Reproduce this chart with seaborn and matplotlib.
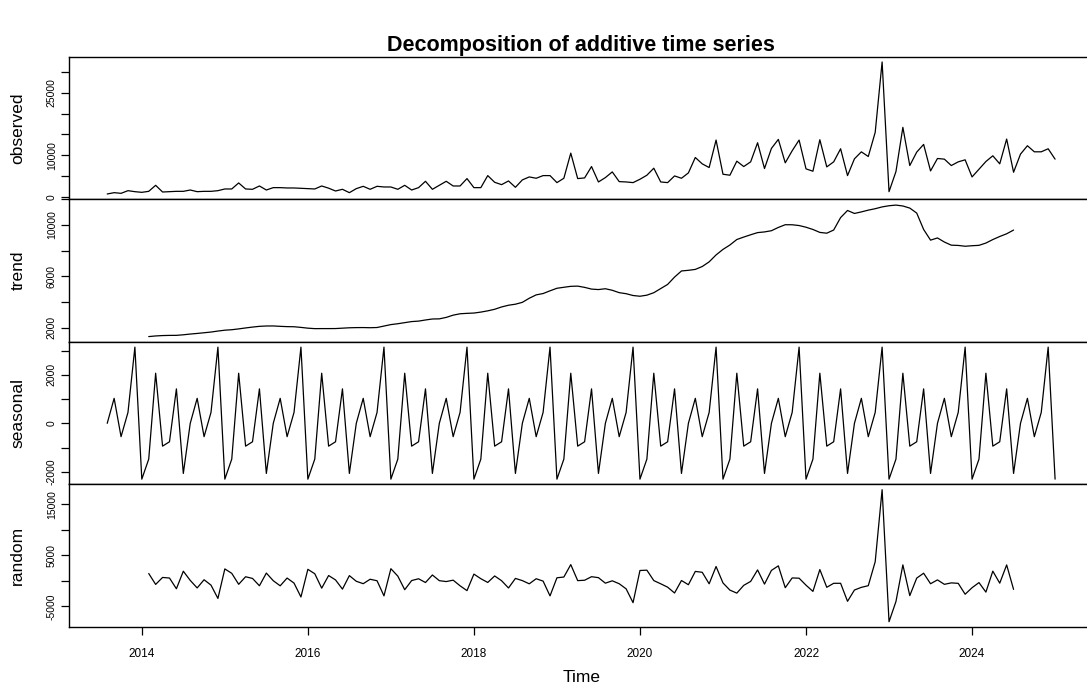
import numpy as np
import pandas as pd
import matplotlib
matplotlib.use("Agg")
import matplotlib.pyplot as plt
import seaborn as sns

# ---- data (monthly, starting Aug 2013) ----
start_year = 2013
start_month = 8
frequency = 12

observed = [
    650, 970, 810, 1450, 1210, 1050, 1290, 2740, 1130, 1210,
    1290, 1290, 1610, 1210, 1290, 1290, 1450, 1860, 1860, 3310,
    1860, 1780, 2580, 1610, 2180, 2180, 2100, 2100, 2020, 1940,
    1860, 2580, 2050, 1370,
    1780, 970, 1940, 2500, 1780, 2500, 2340, 2340, 1780, 2740,
    1610, 2180, 3710, 1780, 2740, 3710, 2580, 2580, 4360, 2180,
    2180, 5080, 3470, 2900, 3790, 2260, 4040, 4760, 4440, 5080,
    5080, 3390, 4440, 10490, 4360, 4520, 7260, 3550,
    4600, 5970, 3630, 3550, 3390, 4200, 5170, 6860, 3550, 3390,
    5000, 4440, 5730, 9440, 7910, 7020, 13640, 5410, 5170, 8550,
    7260, 8390, 12990, 6780, 11620, 13800, 8150, 11060, 13640, 6700,
    6130, 13720, 7180, 8390, 11540, 5080, 9120, 10800,
    9680, 15490, 32440, 1210, 6050, 16700, 7500, 10730, 12590, 6210,
    9200, 9040, 7500, 8390, 8880, 4760, 6620, 8470, 9850, 7910,
    13880, 5890, 10250, 12270, 10810, 10810, 11540, 9040,
]

# seasonal figure, Aug .. Jul
seasonal_pattern = [0, 1030, -550, 450, 3140, -2300, -1475, 2065, -940, -760, 1420, -2065]

panel_names = ["observed", "trend", "seasonal", "random"]
x_ticks = [2014, 2016, 2018, 2020, 2022, 2024]
y_ticks = {
    "observed": [0, 5000, 10000, 15000, 20000, 25000, 30000],
    "trend": [2000, 4000, 6000, 8000, 10000, 12000],
    "seasonal": [-2000, -1000, 0, 1000, 2000, 3000],
    "random": [-5000, 0, 5000, 10000, 15000],
}
y_labelled = {
    "observed": [0, 10000, 25000],
    "trend": [2000, 6000, 10000],
    "seasonal": [-2000, 0, 2000],
    "random": [-5000, 5000, 15000],
}

# ---- classical additive decomposition ----
n = len(observed)
time = start_year + (start_month - 1) / 12 + np.arange(n) / frequency
obs = np.array(observed, dtype=float)
w = np.r_[0.5, np.ones(frequency - 1), 0.5] / frequency
trend = np.full(n, np.nan)
trend[frequency // 2: n - frequency // 2] = np.convolve(obs, w, mode="valid")
seasonal = np.array([seasonal_pattern[i % frequency] for i in range(n)], dtype=float)
random = obs - trend - seasonal

df = pd.DataFrame({"Time": time, "observed": obs, "trend": trend,
                   "seasonal": seasonal, "random": random})

# ---- plotting ----
sns.set_style("ticks")
plt.rcParams["font.family"] = ["Liberation Sans", "DejaVu Sans"]
plt.rcParams["text.color"] = "black"

W, H = 1087, 687
fig, axes = plt.subplots(4, 1, figsize=(W / 100, H / 100), dpi=100, sharex=True)
fig.subplots_adjust(left=69.3 / W, right=1093 / W, top=1 - 56.7 / H,
                    bottom=1 - 627 / H, hspace=0)

tr = time[-1] - time[0]
for ax, name in zip(axes, panel_names):
    d = df[["Time", name]].dropna()
    sns.lineplot(data=d, x="Time", y=name, ax=ax, color="black",
                 linewidth=0.9, estimator=None)
    lo, hi = d[name].min(), d[name].max()
    r = hi - lo
    ax.set_ylim(lo - 0.04 * r, hi + 0.04 * r)
    ax.set_xlim(time[0] - 0.04 * tr, time[-1] + 0.04 * tr)
    ticks = y_ticks[name]
    ax.set_yticks(ticks)
    ax.set_yticklabels([str(t) if t in y_labelled[name] else "" for t in ticks],
                       rotation=90, va="center", fontsize=7.5)
    ax.tick_params(axis="y", direction="out", length=6, width=0.9,
                   color="black", pad=3, labelcolor="black")
    ax.set_ylabel(name, fontsize=12.5, color="black")
    ax.yaxis.set_label_coords(-0.043, 0.5)
    for s in ax.spines.values():
        s.set_color("black")
        s.set_linewidth(1.0)
    ax.set_xlabel("")
    ax.grid(False)

for ax in axes[:-1]:
    ax.tick_params(axis="x", bottom=False, labelbottom=False)

axb = axes[-1]
axb.set_xticks(x_ticks)
axb.set_xticklabels([str(t) for t in x_ticks], fontsize=8.5)
axb.tick_params(axis="x", direction="out", length=6, width=0.9,
                color="black", pad=9, labelcolor="black")
axb.set_xlabel("Time", fontsize=12.5, color="black", labelpad=7)

fig.text((69.3 + 1093) / 2 / W, 1 - 45 / H, "Decomposition of additive time series",
         ha="center", va="center", fontsize=15.5, fontweight="bold", color="black")

fig.savefig("out.png", dpi=100, facecolor="white")
